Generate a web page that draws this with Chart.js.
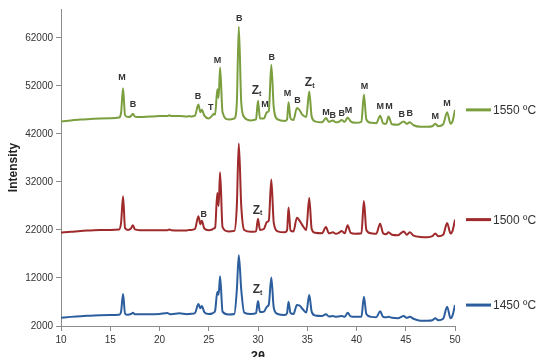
<!DOCTYPE html>
<html>
<head>
<meta charset="utf-8">
<script src="https://cdn.jsdelivr.net/npm/chart.js@4"></script>
<style>
  html, body { margin: 0; padding: 0; background: #fff; overflow: hidden; }
</style>
</head>
<body>
<canvas id="xrdChart" width="540" height="366"></canvas>
<script>
/** XRD patterns */
const twoTheta = [
  10, 11, 12, 13, 14, 15, 15.9, 16.1, 16.3, 16.5, 16.8, 17.1, 17.3, 17.5, 18, 19, 20,
  20.8, 21, 21.2, 22, 22.8, 23.0, 23.2, 23.6, 23.95, 24.15, 24.3, 24.55, 25.0, 25.35, 25.5, 25.65, 25.87, 26.0, 26.15, 26.4, 27.0,
  27.6, 27.85, 28.05, 28.3, 28.6, 29.3, 29.8, 30.0, 30.2, 30.6, 30.9, 31.1, 31.35, 31.6, 32.0,
  32.7, 32.95, 33.1, 33.3, 33.6, 33.95, 34.2, 34.5, 34.9, 35.2, 35.45, 35.8, 36.5, 36.9, 37.2, 37.6, 37.9, 38.2, 38.5, 38.8, 39.1, 39.4, 39.9,
  40.5, 40.75, 41.0, 41.5, 42.0, 42.4, 42.7, 43.0, 43.25, 43.6, 44.2, 44.8, 45.1, 45.4, 45.8, 46.5, 47.2, 47.7, 48.0, 48.3, 48.8, 49.2, 49.55, 49.75, 50,
];

const int1550 = [
  44600, 44800, 45000, 45100, 45200, 45250, 45400, 46400, 51500, 45900, 45500, 45700, 46200, 45600, 45500, 45600, 45700,
  45700, 45900, 45700, 45700, 45600, 45700, 45600, 45800, 48100, 46500, 47000, 45800, 45200, 45800, 46200, 46000, 51300, 49500, 55800, 46500, 45000,
  45200, 48500, 64300, 48500, 45500, 44800, 45000, 48900, 45200, 45200, 46500, 46800, 56400, 47500, 45000,
  44700, 45000, 48600, 45200, 44900, 47400, 47000, 46000, 45500, 50800, 45600, 44600, 44400, 45300, 44500, 44800, 44400, 44500, 44900, 44500, 45400, 44600, 44300,
  44500, 50200, 45000, 44300, 44200, 45800, 44200, 44100, 45600, 44000, 43900, 44600, 44100, 44400, 43800, 43500, 43500, 43600, 44100, 43600, 44000, 46500, 44100, 44600, 47000,
];

const int1500 = [
  21450, 21600, 21800, 21900, 22000, 22000, 22100, 23500, 29000, 22400, 22000, 22300, 23000, 22100, 21950, 21950, 21950,
  21950, 22100, 21950, 21900, 21900, 22000, 22000, 22200, 24850, 23200, 23900, 22300, 21950, 22100, 22300, 22500, 29700, 27000, 34000, 22600, 21700,
  21800, 27000, 40000, 27000, 22000, 21600, 21700, 24350, 22000, 22200, 23650, 24000, 32500, 23500, 21700,
  21500, 21900, 26650, 21900, 21700, 24550, 24000, 23000, 22000, 28650, 22200, 21400, 21300, 22600, 21300, 21500, 21200, 21400, 21800, 21300, 23000, 21400, 21200,
  21300, 28000, 22000, 21300, 21200, 23300, 21300, 21100, 21500, 21000, 20900, 21700, 21000, 21500, 20800, 20550, 20500, 20700, 21250, 20700, 21000, 23450, 21250, 21800, 24150,
];

const int1450 = [
  3720, 3900, 4050, 4150, 4250, 4300, 4350, 5000, 8650, 4600, 4350, 4500, 4760, 4450, 4430, 4430, 4500,
  4700, 4500, 4450, 4650, 4450, 4500, 4550, 4700, 6570, 5700, 6150, 4900, 4500, 4600, 4800, 5200, 9120, 8500, 12380, 5000, 4400,
  4500, 9500, 16750, 9500, 4800, 4500, 4700, 7190, 4900, 5000, 6000, 6500, 12100, 5800, 4500,
  4300, 4700, 7050, 4700, 4500, 6360, 6300, 5600, 4800, 8440, 5000, 4200, 4100, 4430, 4000, 4100, 3900, 4000, 4080, 3900, 4760, 4000, 3900,
  3900, 8090, 4500, 3900, 3800, 5050, 3900, 3800, 3900, 3700, 3600, 4080, 3700, 3930, 3500, 3100, 3100, 3200, 3600, 3200, 3500, 6000, 3600, 4200, 6360,
];

const seriesNames = ['1550 ºC', '1500 ºC', '1450 ºC'];
const yTickValues = [2000, 12000, 22000, 32000, 42000, 52000, 62000];

// phase labels: text, 2θ, intensity
const peakText = ['M', 'B', 'B', 'T', 'M', 'B', 'Zt', 'M', 'B', 'M', 'B', 'Zt', 'M', 'B', 'B', 'M', 'M', 'M', 'M', 'B', 'B', 'M', 'M', 'B', 'Zt', 'Zt'];
const peakPos = [16.2, 17.3, 23.9, 25.2, 25.9, 28.1, 29.9, 30.7, 31.4, 33.0, 34.0, 35.3, 36.9, 37.6, 38.5, 39.2, 40.8, 42.4, 43.3, 44.6, 45.4, 48.0, 49.2, 24.5, 30.0, 30.0];
const peakInt = [53700, 48100, 49750, 47450, 57200, 65950, 51000, 48100, 57850, 50400, 48900, 52650, 46400, 45800, 46200, 46850, 51800, 47650, 47650, 45950, 46200, 45600, 48300, 25250, 26100, 9500];

const toPoints = (arr) => twoTheta.map((t, i) => ({ x: t, y: arr[i] }));

const FONT = "'Liberation Sans', Arial, sans-serif";

const peakLabels = {
  id: 'peakLabels',
  afterDatasetsDraw(chart) {
    const { ctx, scales } = chart;
    ctx.save();
    ctx.fillStyle = '#333';
    ctx.textBaseline = 'middle';
    peakText.forEach((txt, i) => {
      const x = scales.x.getPixelForValue(peakPos[i]);
      const y = scales.y.getPixelForValue(peakInt[i]);
      if (txt === 'Zt') {
        ctx.font = 'bold 12px ' + FONT;
        ctx.textAlign = 'right';
        ctx.fillText('Z', x + 2, y);
        ctx.font = 'bold 7px ' + FONT;
        ctx.textAlign = 'left';
        ctx.fillText('t', x + 2, y + 3);
      } else {
        ctx.font = 'bold 9px ' + FONT;
        ctx.textAlign = 'center';
        ctx.fillText(txt, x, y);
      }
    });
    ctx.restore();
  },
};

// legend entries sit next to the end of each curve
const sideLegend = {
  id: 'sideLegend',
  afterDraw(chart) {
    const { ctx, chartArea, scales } = chart;
    ctx.save();
    chart.data.datasets.forEach((ds) => {
      const last = ds.data[ds.data.length - 1].y;
      const y = scales.y.getPixelForValue(last);
      const x0 = chartArea.right + 11;
      ctx.strokeStyle = ds.borderColor;
      ctx.lineWidth = 3;
      ctx.beginPath();
      ctx.moveTo(x0, y);
      ctx.lineTo(x0 + 25, y);
      ctx.stroke();
      ctx.fillStyle = '#333';
      ctx.font = '12px ' + FONT;
      ctx.textAlign = 'left';
      ctx.textBaseline = 'middle';
      ctx.fillText(ds.label, x0 + 27, y + 1);
    });
    ctx.restore();
  },
};

const xrdChart = new Chart(document.getElementById('xrdChart'), {
  type: 'line',
  data: {
    datasets: [
      { label: seriesNames[0], data: toPoints(int1550), borderColor: '#7b9f3f' },
      { label: seriesNames[1], data: toPoints(int1500), borderColor: '#9e2a2b' },
      { label: seriesNames[2], data: toPoints(int1450), borderColor: '#2c5e9e' },
    ],
  },
  options: {
    responsive: false,
    animation: false,
    elements: {
      point: { radius: 0 },
      line: { borderWidth: 2, cubicInterpolationMode: 'monotone' },
    },
    layout: {
      padding: { left: 0, right: 85, top: 8, bottom: 0 },
    },
    plugins: {
      legend: { display: false },
      tooltip: { enabled: false },
    },
    scales: {
      x: {
        type: 'linear',
        min: 10,
        max: 50,
        afterFit: (scale) => { scale.height = 40; },
        ticks: { stepSize: 5, color: '#333', font: { family: FONT, size: 10 }, padding: 3, maxRotation: 0 },
        grid: { drawOnChartArea: false, drawTicks: true, tickLength: 5, color: '#8c8c8c' },
        border: { color: '#8c8c8c' },
        title: { display: true, text: '2θ', color: '#222', font: { family: FONT, size: 13, weight: 'bold' }, padding: { top: 0, bottom: 2 } },
      },
      y: {
        type: 'linear',
        min: 2000,
        max: 68000,
        afterFit: (scale) => { scale.width = 61; },
        afterBuildTicks: (scale) => { scale.ticks = yTickValues.map((v) => ({ value: v })); },
        ticks: { color: '#333', font: { family: FONT, size: 10 }, padding: 3, callback: (v) => String(v) },
        grid: { drawOnChartArea: false, drawTicks: true, tickLength: 5, color: '#8c8c8c' },
        border: { color: '#8c8c8c' },
        title: { display: true, text: 'Intensity', color: '#222', font: { family: FONT, size: 12, weight: 'bold' }, padding: { top: 6, bottom: 0 } },
      },
    },
  },
  plugins: [peakLabels, sideLegend],
});
</script>
</body>
</html>
